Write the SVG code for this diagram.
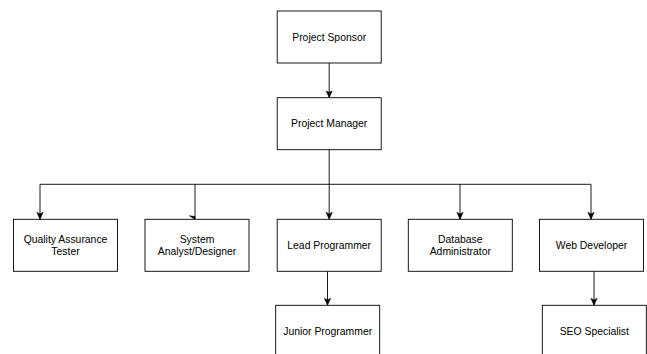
<svg xmlns="http://www.w3.org/2000/svg" width="647" height="354" viewBox="0 0 647 354">
  <style>
    .box { fill: #ffffff; stroke: #000000; stroke-width: 0.9; }
    .lbl { font-family: "Liberation Sans", Arial, Helvetica, sans-serif; font-size: 10.4px; fill: #000000; text-anchor: middle; }
    .edge { fill: none; stroke: #000000; stroke-width: 0.9; }
  </style>
  <defs>
    <marker id="arr" markerUnits="userSpaceOnUse" markerWidth="8" markerHeight="8" viewBox="0 0 8 8" refX="7" refY="4" orient="auto">
      <path d="M0,0.8 L7,4 L0,7.2 L1.6,4 Z" fill="#000000" stroke="#000000" stroke-width="0.5"/>
    </marker>
  </defs>
  <rect width="647" height="354" fill="#ffffff"/>

  <g id="connectors">
    <path class="edge" d="M329.2,63 L329.2,97.7" marker-end="url(#arr)"/>
    <path class="edge" d="M329.2,149.7 L329.2,184.3"/>
    <path class="edge" d="M40,184.3 L591,184.3"/>
    <path class="edge" d="M40,184.3 L40,219.3" marker-end="url(#arr)"/>
    <path class="edge" d="M195,184.3 L195,219.3"/>
    <polygon points="189.5,215.8 195,219.4 195,216.6" fill="#000000" stroke="#000000" stroke-width="0.6"/>
    <path class="edge" d="M329.2,184.3 L329.2,219.3" marker-end="url(#arr)"/>
    <path class="edge" d="M460,184.3 L460,219.3" marker-end="url(#arr)"/>
    <path class="edge" d="M591,184.3 L591,219.3" marker-end="url(#arr)"/>
    <path class="edge" d="M327.5,271.3 L327.5,305.3" marker-end="url(#arr)"/>
    <path class="edge" d="M594,271.3 L594,305.3" marker-end="url(#arr)"/>
  </g>

  <g id="project-sponsor">
    <rect class="box" x="277.2" y="11" width="104" height="52"/>
    <text class="lbl" x="329.2" y="40.7">Project Sponsor</text>
  </g>
  <g id="project-manager">
    <rect class="box" x="277.2" y="97.7" width="104" height="52"/>
    <text class="lbl" x="329.2" y="127.4">Project Manager</text>
  </g>
  <g id="qa-tester">
    <rect class="box" x="13.5" y="219.3" width="104" height="52"/>
    <text class="lbl" x="65.5" y="242.9">Quality Assurance</text>
    <text class="lbl" x="65.5" y="254.9">Tester</text>
  </g>
  <g id="system-analyst">
    <rect class="box" x="145" y="219.3" width="104" height="52"/>
    <text class="lbl" x="197" y="242.9">System</text>
    <text class="lbl" x="197" y="254.9">Analyst/Designer</text>
  </g>
  <g id="lead-programmer">
    <rect class="box" x="277.2" y="219.3" width="104" height="52"/>
    <text class="lbl" x="329.2" y="249">Lead Programmer</text>
  </g>
  <g id="database-administrator">
    <rect class="box" x="408.3" y="219.3" width="104" height="52"/>
    <text class="lbl" x="460.3" y="242.9">Database</text>
    <text class="lbl" x="460.3" y="254.9">Administrator</text>
  </g>
  <g id="web-developer">
    <rect class="box" x="539.5" y="219.3" width="104" height="52"/>
    <text class="lbl" x="591.5" y="249">Web Developer</text>
  </g>
  <g id="junior-programmer">
    <rect class="box" x="275.7" y="305.3" width="104" height="52"/>
    <text class="lbl" x="327.7" y="335">Junior Programmer</text>
  </g>
  <g id="seo-specialist">
    <rect class="box" x="542.3" y="305.3" width="104" height="52"/>
    <text class="lbl" x="594.3" y="335">SEO Specialist</text>
  </g>
</svg>
